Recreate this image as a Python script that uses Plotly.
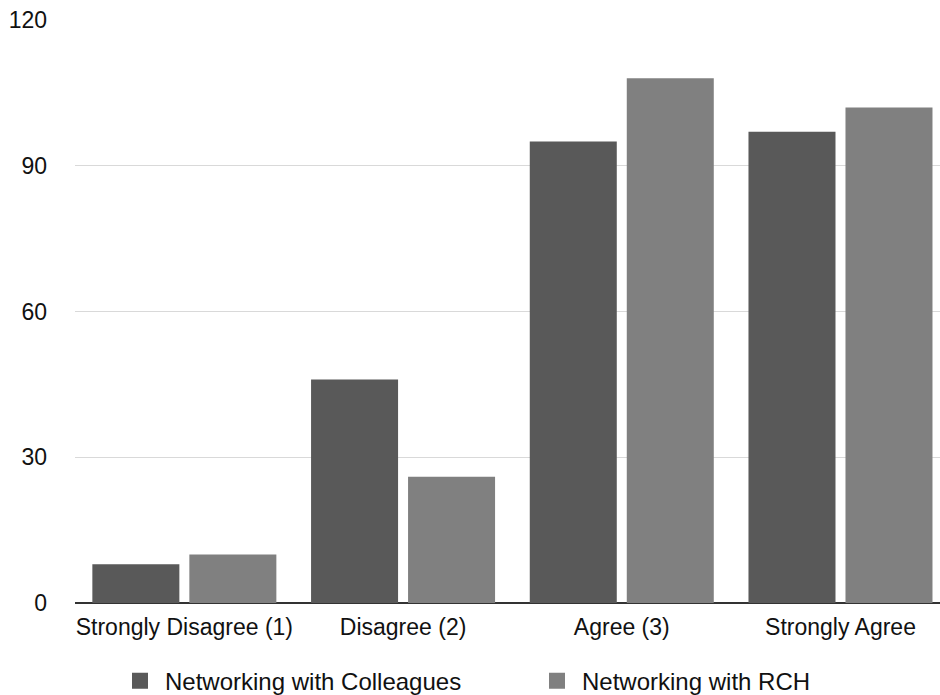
import plotly.graph_objects as go

categories = ["Strongly Disagree (1)", "Disagree (2)", "Agree (3)", "Strongly Agree"]
colleagues = [8, 46, 95, 97]
rch = [10, 26, 108, 102]
series_names = ["Networking with Colleagues", "Networking with RCH"]
series_colors = ["#595959", "#808080"]
y_ticks = [0, 30, 60, 90, 120]

FONT = "Liberation Sans, Arial, Helvetica, sans-serif"
legend_ids = ["legend", "legend2"]
legend_left_px = [115, 532]

fig = go.Figure()
for name, vals, col, lg in zip(series_names, [colleagues, rch], series_colors, legend_ids):
    fig.add_trace(go.Bar(
        x=categories, y=vals, name=name,
        marker=dict(color=col, line=dict(width=0)),
        showlegend=False, hoverinfo="x+y",
    ))
    # legend proxy with a larger square swatch
    fig.add_trace(go.Scatter(
        x=[None], y=[None], mode="markers", name=name,
        marker=dict(symbol="square", size=22, color=col),
        showlegend=True, legend=lg,
    ))

legend_style = dict(
    orientation="h", xref="container", xanchor="left",
    yref="paper", y=-0.134, yanchor="middle",
    font=dict(size=24, color="#111111"), itemsizing="trace",
    itemwidth=40, bgcolor="rgba(0,0,0,0)",
)

fig.update_layout(
    width=940, height=695,
    margin=dict(l=75, r=0, t=20, b=92, autoexpand=False),
    paper_bgcolor="white", plot_bgcolor="white",
    font=dict(family=FONT, size=23, color="#111111"),
    barmode="group", bargap=0.113, bargroupgap=0.103,
    legend=dict(x=legend_left_px[0] / 940, **legend_style),
    legend2=dict(x=legend_left_px[1] / 940, **legend_style),
    xaxis=dict(
        range=[-0.5, 3.455], showgrid=False, showline=False,
        ticks="", tickfont=dict(size=23), ticklabelstandoff=8,
        tickangle=0, automargin=False,
    ),
    yaxis=dict(
        range=[0, 120], tickvals=y_ticks, showgrid=True,
        gridcolor="#d9d9d9", gridwidth=1,
        zeroline=True, zerolinecolor="#333333", zerolinewidth=1.5,
        showline=False, ticks="", tickfont=dict(size=23),
        ticklabelstandoff=27, automargin=False,
    ),
)

fig.write_html("out.html")
